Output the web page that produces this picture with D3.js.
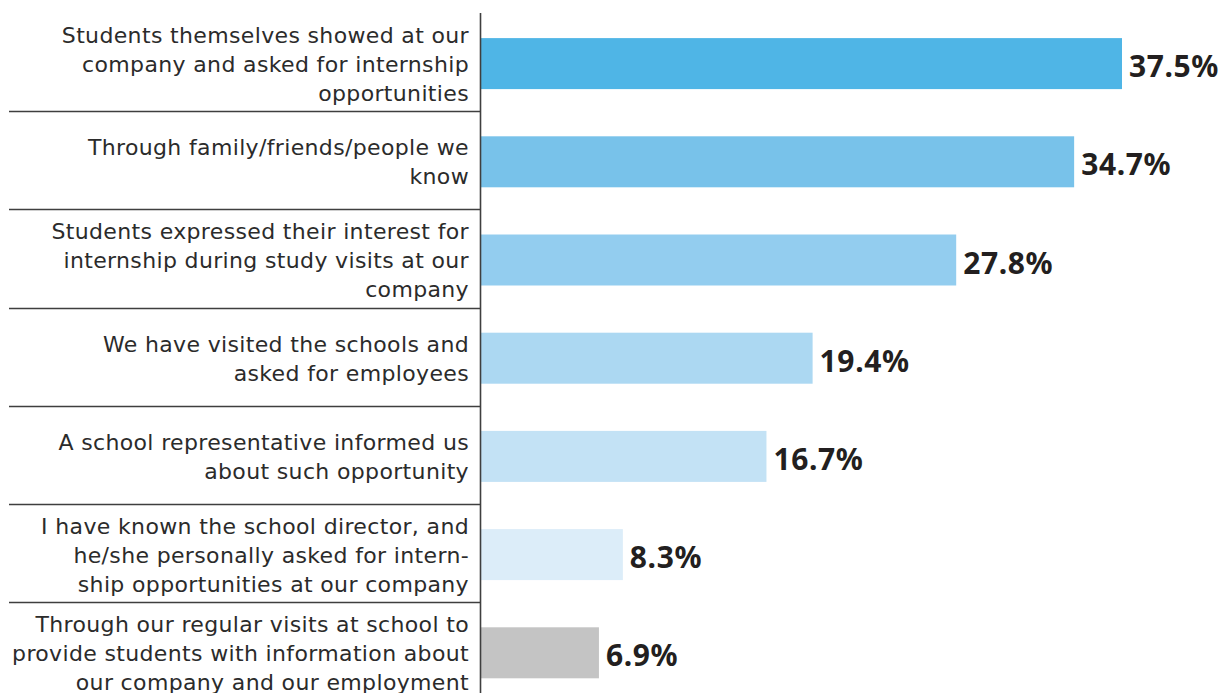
<!DOCTYPE html>
<html>
<head>
<meta charset="utf-8">
<script src="https://cdn.jsdelivr.net/npm/d3@7"></script>
<style>
  html, body { margin: 0; padding: 0; background: #fff; }
  svg { display: block; }
</style>
</head>
<body>
<script>
// How companies came into contact with internship students
const categories = [
  "Students themselves showed at our\ncompany and asked for internship\nopportunities",
  "Through family/friends/people we\nknow",
  "Students expressed their interest for\ninternship during study visits at our\ncompany",
  "We have visited the schools and\nasked for employees",
  "A school representative informed us\nabout such opportunity",
  "I have known the school director, and\nhe/she personally asked for intern-\nship opportunities at our company",
  "Through our regular visits at school to\nprovide students with information about\nour company and our employment"
];
const values = [37.5, 34.7, 27.8, 19.4, 16.7, 8.3, 6.9];
const valueLabels = ["37.5%", "34.7%", "27.8%", "19.4%", "16.7%", "8.3%", "6.9%"];
const barColors = ["#4fb5e6", "#78c2ea", "#93cdef", "#acd8f2", "#c3e2f5", "#dcedf9", "#c4c4c4"];

const W = 1223, H = 693;
const axisX = 480.5;
const plotTop = 13;
const rowH = 98.2;
const barH = 51;

const svg = d3.select("body").append("svg")
  .attr("width", W).attr("height", H);

const x = d3.scaleLinear().domain([0, 37.5]).range([axisX + 0.5, 1122]);
const y = d3.scaleBand().domain(categories).range([plotTop, plotTop + rowH * categories.length]).padding(0);

const rows = svg.selectAll("g.row").data(categories).enter().append("g").attr("class", "row");

// bars
rows.append("rect")
  .attr("x", x(0))
  .attr("y", d => y(d) + (y.bandwidth() - barH) / 2 + 1.5)
  .attr("width", (d, i) => x(values[i]) - x(0))
  .attr("height", barH)
  .attr("fill", (d, i) => barColors[i]);

// value labels
rows.append("text")
  .attr("x", (d, i) => x(values[i]) + 7)
  .attr("y", d => y(d) + y.bandwidth() / 2 + 1.5)
  .attr("dy", "0.45em")
  .attr("font-family", "'Noto Sans', sans-serif")
  .attr("font-weight", 700)
  .attr("font-size", 30)
  .attr("letter-spacing", 0.6)
  .attr("fill", "#231f20")
  .text((d, i) => valueLabels[i]);

// category labels, right aligned against the axis
const lineH = 29;
rows.append("text")
  .attr("text-anchor", "end")
  .attr("font-family", "'DejaVu Sans', sans-serif")
  .attr("font-size", 22)
  .attr("letter-spacing", 0.35)
  .attr("fill", "#2b2b2b")
  .each(function (d) {
    const lines = d.split("\n");
    const cy = y(d) + y.bandwidth() / 2 + 1.5;
    const t = d3.select(this);
    lines.forEach((ln, k) => {
      t.append("tspan")
        .attr("x", 469)
        .attr("y", cy + (k - (lines.length - 1) / 2) * lineH)
        .attr("dy", "0.36em")
        .text(ln);
    });
  });

// row separators
svg.selectAll("line.sep").data(categories.slice(1)).enter().append("line")
  .attr("class", "sep")
  .attr("x1", 9).attr("x2", axisX)
  .attr("y1", d => Math.round(y(d)) + 0.5)
  .attr("y2", d => Math.round(y(d)) + 0.5)
  .attr("stroke", "#3f3f3f")
  .attr("stroke-width", 1.6);

// category axis
svg.append("line")
  .attr("x1", axisX).attr("x2", axisX)
  .attr("y1", plotTop).attr("y2", H)
  .attr("stroke", "#3f3f3f")
  .attr("stroke-width", 1.6);
</script>
</body>
</html>
